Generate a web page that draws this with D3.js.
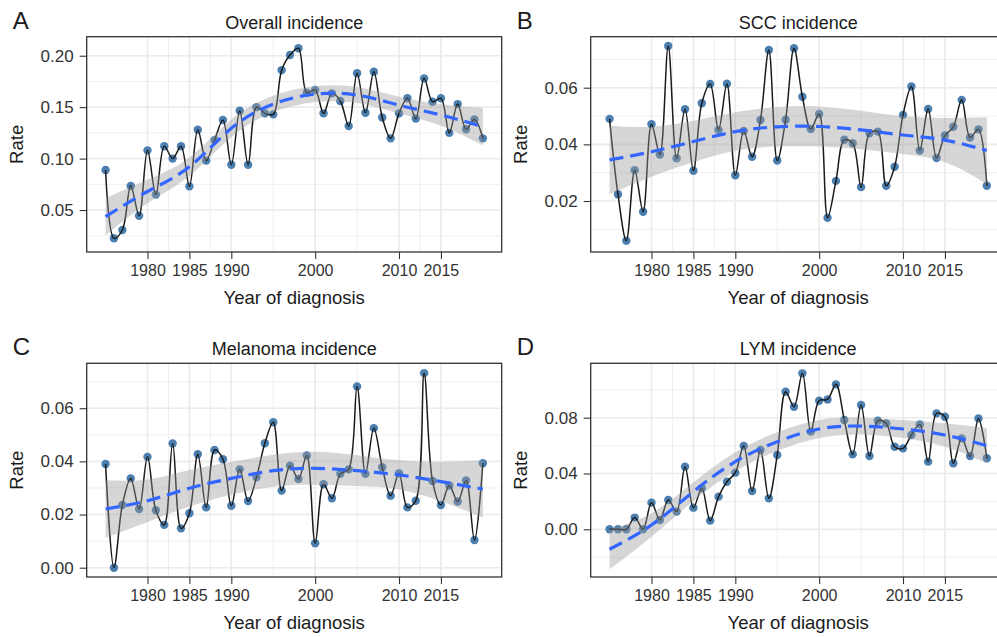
<!DOCTYPE html>
<html>
<head>
<meta charset="utf-8">
<script src="https://cdn.jsdelivr.net/npm/d3@7"></script>
<style>
  html, body { margin: 0; padding: 0; background: #fff; }
  svg { display: block; font-family: "Liberation Sans", Arial, sans-serif; }
</style>
</head>
<body>
<svg id="chart" width="997" height="637"></svg>
<script>
// years of diagnosis (one point per year)
const years = [1975, 1976, 1977, 1978, 1979, 1980, 1981, 1982, 1983, 1984,
  1985, 1986, 1987, 1988, 1989, 1990, 1991, 1992, 1993, 1994,
  1995, 1996, 1997, 1998, 1999, 2000, 2001, 2002, 2003, 2004,
  2005, 2006, 2007, 2008, 2009, 2010, 2011, 2012, 2013, 2014,
  2015, 2016, 2017, 2018, 2019, 2020];

// incidence rates
const overallRate = [0.089, 0.0225, 0.0306, 0.0733, 0.0445, 0.108, 0.065, 0.112, 0.100, 0.112,
  0.073, 0.128, 0.098, 0.118, 0.1375, 0.094, 0.1465, 0.094, 0.150, 0.144,
  0.143, 0.186, 0.2007, 0.2072, 0.164, 0.1667, 0.144, 0.1634, 0.156, 0.1317,
  0.183, 0.1446, 0.1844, 0.140, 0.1197, 0.144, 0.1586, 0.139, 0.178, 0.1553,
  0.1586, 0.125, 0.153, 0.1285, 0.138, 0.1197];

const sccRate = [0.049, 0.0224, 0.006, 0.0309, 0.0162, 0.0471, 0.0364, 0.0747, 0.0351, 0.0524,
  0.0307, 0.0545, 0.0613, 0.0451, 0.0614, 0.0291, 0.0447, 0.0356, 0.0486, 0.0733,
  0.0343, 0.0487, 0.0739, 0.0568, 0.0454, 0.0507, 0.0141, 0.0271, 0.0416, 0.0404,
  0.0249, 0.0439, 0.0445, 0.0254, 0.0321, 0.0504, 0.0604, 0.0378, 0.0525, 0.0352,
  0.0431, 0.0462, 0.0557, 0.0424, 0.0453, 0.0254];

const melanomaRate = [0.039, 0.0, 0.0236, 0.0336, 0.0221, 0.0417, 0.0216, 0.0161, 0.0467, 0.0148,
  0.0205, 0.0427, 0.0227, 0.0443, 0.0408, 0.0233, 0.037, 0.0251, 0.034, 0.0468,
  0.0547, 0.029, 0.0384, 0.0334, 0.0422, 0.0092, 0.0314, 0.0261, 0.0353, 0.037,
  0.0682, 0.0353, 0.0525, 0.0378, 0.0271, 0.0355, 0.0227, 0.0252, 0.0732, 0.0326,
  0.0236, 0.0309, 0.0249, 0.0328, 0.0104, 0.0393];

const lymRate = [0.0, 0.0, 0.0, 0.0084, 0.0, 0.0191, 0.0067, 0.021, 0.0127, 0.0449,
  0.0155, 0.0294, 0.0062, 0.0234, 0.0341, 0.0406, 0.0597, 0.0275, 0.0568, 0.0222,
  0.0533, 0.0986, 0.0879, 0.1118, 0.070, 0.0922, 0.0931, 0.1039, 0.0783, 0.0537,
  0.0891, 0.0525, 0.0778, 0.0759, 0.0592, 0.058, 0.0676, 0.0752, 0.0485, 0.0831,
  0.0807, 0.0473, 0.0652, 0.0525, 0.0795, 0.0509];

// loess trend (dashed) and half-width of its grey band, read at these years
const smoothYears = [1975, 1980, 1985, 1990, 1995, 2000, 2005, 2010, 2015, 2020];
const overallFit = [0.0435, 0.068, 0.092, 0.1294, 0.153, 0.1627, 0.1618, 0.152, 0.1424, 0.131];
const overallBand = [0.0182, 0.0115, 0.009, 0.0085, 0.008, 0.0078, 0.0078, 0.0082, 0.0105, 0.0183];
const sccFit = [0.0345, 0.0374, 0.041, 0.0445, 0.0462, 0.0463, 0.0451, 0.0433, 0.0415, 0.0378];
const sccBand = [0.0121, 0.0088, 0.0073, 0.0068, 0.007, 0.0071, 0.0068, 0.0067, 0.0078, 0.0118];
const melanomaFit = [0.0221, 0.0252, 0.0299, 0.0336, 0.0365, 0.0374, 0.0365, 0.0349, 0.0324, 0.0296];
const melanomaBand = [0.0108, 0.008, 0.0069, 0.0062, 0.006, 0.0062, 0.0058, 0.0055, 0.0074, 0.0107];
const lymFit = [-0.0143, 0.0031, 0.027, 0.0485, 0.0628, 0.0719, 0.074, 0.0719, 0.0676, 0.0599];
const lymBand = [0.0143, 0.0084, 0.0067, 0.0067, 0.0067, 0.0065, 0.006, 0.0065, 0.0084, 0.0126];

// axis breaks
const xTicks = [1980, 1985, 1990, 2000, 2010, 2015];
const xMinor = [1982.5, 1987.5, 1995, 2005, 2012.5];
const overallTicks = [0.05, 0.10, 0.15, 0.20];
const sccTicks = [0.02, 0.04, 0.06];
const melanomaTicks = [0.00, 0.02, 0.04, 0.06];
const lymTicks = [0.00, 0.04, 0.08];

const svg = d3.select("#chart");

const POINT = "#4b7fb0";
const BLUE = "#3366ff";
const GRID = "#ebebeb";

function drawPanel(p) {
  const x = d3.scaleLinear().domain([1972.75, 2022.25]).range([p.left, p.left + 415]);
  const y = d3.scaleLinear().domain(p.yDomain).range([p.bottom, p.top]);
  const g = svg.append("g");

  // minor y breaks at midpoints, plus one step beyond each end
  const step = p.yTicks[1] - p.yTicks[0];
  const yMinor = [p.yTicks[0] - step / 2].concat(p.yTicks.map(t => t + step / 2))
    .filter(v => v > p.yDomain[0] && v < p.yDomain[1]);

  const clipId = "clip" + p.letter;
  g.append("clipPath").attr("id", clipId)
    .append("rect")
    .attr("x", p.left).attr("y", p.top)
    .attr("width", 415).attr("height", p.bottom - p.top);

  const grid = g.append("g");
  grid.selectAll(".vmin").data(xMinor).join("line")
    .attr("x1", d => x(d)).attr("x2", d => x(d))
    .attr("y1", p.top).attr("y2", p.bottom)
    .attr("stroke", GRID).attr("stroke-width", 0.8);
  grid.selectAll(".hmin").data(yMinor).join("line")
    .attr("x1", p.left).attr("x2", p.left + 415)
    .attr("y1", d => y(d)).attr("y2", d => y(d))
    .attr("stroke", GRID).attr("stroke-width", 0.8);
  grid.selectAll(".vmaj").data(xTicks).join("line")
    .attr("x1", d => x(d)).attr("x2", d => x(d))
    .attr("y1", p.top).attr("y2", p.bottom)
    .attr("stroke", GRID).attr("stroke-width", 1.6);
  grid.selectAll(".hmaj").data(p.yTicks).join("line")
    .attr("x1", p.left).attr("x2", p.left + 415)
    .attr("y1", d => y(d)).attr("y2", d => y(d))
    .attr("stroke", GRID).attr("stroke-width", 1.6);

  const plot = g.append("g").attr("clip-path", `url(#${clipId})`);
  const pts = years.map((yr, i) => ({ yr: yr, v: p.values[i] }));

  plot.selectAll("circle").data(pts).join("circle")
    .attr("cx", d => x(d.yr)).attr("cy", d => y(d.v))
    .attr("r", 4.2)
    .attr("fill", POINT);

  plot.append("path").datum(pts)
    .attr("d", d3.line().x(d => x(d.yr)).y(d => y(d.v)).curve(d3.curveCatmullRom.alpha(0.5)))
    .attr("fill", "none").attr("stroke", "#1a1a1a").attr("stroke-width", 1.5);

  const sm = smoothYears.map((yr, i) => ({ yr: yr, f: p.fit[i], b: p.band[i] }));
  plot.append("path").datum(sm)
    .attr("d", d3.area().x(d => x(d.yr))
      .y0(d => y(d.f - d.b)).y1(d => y(d.f + d.b)).curve(d3.curveNatural))
    .attr("fill", "#999999").attr("fill-opacity", 0.4);
  plot.append("path").datum(sm)
    .attr("d", d3.line().x(d => x(d.yr)).y(d => y(d.f)).curve(d3.curveNatural))
    .attr("fill", "none").attr("stroke", BLUE).attr("stroke-width", 3.2)
    .attr("stroke-dasharray", "14,7");

  // panel border
  g.append("rect")
    .attr("x", p.left).attr("y", p.top)
    .attr("width", 415).attr("height", p.bottom - p.top)
    .attr("fill", "none").attr("stroke", "#333").attr("stroke-width", 1.3);

  const xAxis = g.append("g")
    .attr("transform", `translate(0,${p.bottom})`)
    .call(d3.axisBottom(x).tickValues(xTicks).tickFormat(d3.format("d")).tickSize(7).tickPadding(6));
  const yAxis = g.append("g")
    .attr("transform", `translate(${p.left},0)`)
    .call(d3.axisLeft(y).tickValues(p.yTicks).tickFormat(d3.format(".2f")).tickSize(7).tickPadding(6));
  [xAxis, yAxis].forEach(a => {
    a.select(".domain").remove();
    a.selectAll("line").attr("stroke", "#333").attr("stroke-width", 1.1);
    a.selectAll("text").attr("fill", "#333");
  });
  xAxis.selectAll("text").style("font-size", "16px");
  yAxis.selectAll("text").style("font-size", "17px");

  g.append("text")
    .attr("x", p.left + 207.5).attr("y", p.top - 8)
    .attr("text-anchor", "middle")
    .style("font-size", "18px").attr("fill", "#1a1a1a")
    .text(p.title);
  g.append("text")
    .attr("x", p.left + 207.5).attr("y", p.bottom + 52)
    .attr("text-anchor", "middle")
    .style("font-size", "18.5px").attr("fill", "#1a1a1a")
    .text("Year of diagnosis");
  g.append("text")
    .attr("transform", `translate(${p.left - 64},${(p.top + p.bottom) / 2}) rotate(-90)`)
    .attr("text-anchor", "middle")
    .style("font-size", "18.5px").attr("fill", "#1a1a1a")
    .text("Rate");
  g.append("text")
    .attr("x", p.left - 74).attr("y", p.top - 8)
    .style("font-size", "24px").attr("fill", "#1a1a1a")
    .text(p.letter);
}

drawPanel({ letter: "A", title: "Overall incidence", left: 86.7, top: 36.7, bottom: 252,
  yDomain: [0.0092, 0.2185], yTicks: overallTicks, values: overallRate, fit: overallFit, band: overallBand });
drawPanel({ letter: "B", title: "SCC incidence", left: 590.7, top: 36.7, bottom: 252,
  yDomain: [0.002, 0.078], yTicks: sccTicks, values: sccRate, fit: sccFit, band: sccBand });
drawPanel({ letter: "C", title: "Melanoma incidence", left: 86.7, top: 363.3, bottom: 577,
  yDomain: [-0.0035, 0.0769], yTicks: melanomaTicks, values: melanomaRate, fit: melanomaFit, band: melanomaBand });
drawPanel({ letter: "D", title: "LYM incidence", left: 590.7, top: 363.3, bottom: 577,
  yDomain: [-0.0342, 0.119], yTicks: lymTicks, values: lymRate, fit: lymFit, band: lymBand });
</script>
</body>
</html>
